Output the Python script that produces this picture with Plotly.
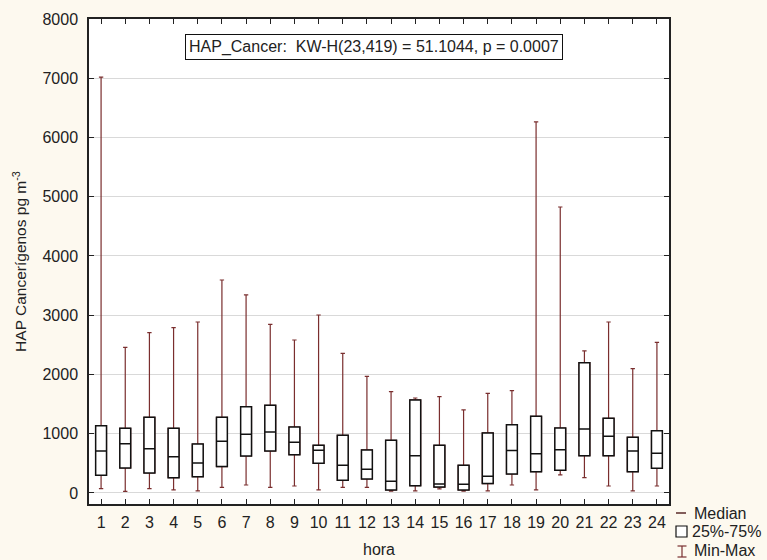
import plotly.graph_objects as go

hours = list(range(1, 25))
hour_labels = [str(h) for h in hours]
mins = [73, 28, 73, 51, 34, 96, 135, 96, 118, 51, 96, 96, 30, 34, 70, 30, 34, 135, 51, 304, 259, 118, 34, 118]
q1 = [298, 422, 338, 259, 276, 445, 624, 709, 647, 501, 214, 236, 50, 124, 100, 50, 158, 321, 360, 383, 630, 630, 360, 417]
medians = [709, 832, 748, 613, 506, 872, 991, 1030, 855, 721, 467, 400, 197, 630, 152, 146, 281, 715, 664, 731, 1080, 957, 709, 670]
q3 = [1136, 1092, 1277, 1092, 827, 1277, 1457, 1480, 1114, 805, 974, 726, 889, 1570, 805, 467, 1013, 1153, 1294, 1097, 2200, 1260, 940, 1052]
maxs = [7020, 2459, 2706, 2790, 2886, 3595, 3342, 2847, 2582, 3004, 2357, 1969, 1710, 1603, 1626, 1401, 1682, 1727, 6262, 4827, 2397, 2886, 2098, 2543]

title_text = "HAP_Cancer:  KW-H(23,419) = 51.1044, p = 0.0007"

BG = "#fdf9ef"
WHISK = "#7a2e2e"
FONT = "Liberation Sans, Arial, sans-serif"
TXT = "#222222"
BW = 0.45

fig = go.Figure()

# whiskers (min-max) drawn as a box trace beneath the real boxes
fig.add_trace(go.Box(
    x=hours, q1=q1, median=q1, q3=q3, lowerfence=mins, upperfence=maxs,
    width=BW, whiskerwidth=0.4, line=dict(color=WHISK, width=1.2),
    fillcolor="rgba(0,0,0,0)", showlegend=False, hoverinfo="skip",
))
# boxes 25%-75% with median
fig.add_trace(go.Box(
    x=hours, q1=q1, median=medians, q3=q3, lowerfence=q1, upperfence=q3,
    width=BW, whiskerwidth=0, line=dict(color="#111111", width=1.5),
    fillcolor="white", showlegend=False,
))

fig.update_layout(
    width=767, height=560,
    margin=dict(l=89, r=98, t=19, b=56),
    paper_bgcolor=BG, plot_bgcolor="white",
    font=dict(family=FONT, size=16, color=TXT),
    showlegend=False,
    boxmode="overlay",
)
fig.update_xaxes(
    range=[0.5, 24.5], tickvals=hours, ticktext=hour_labels,
    showgrid=False, zeroline=False, automargin=False,
    showline=True, linecolor="#222222", linewidth=1.5, mirror="ticks",
    ticks="inside", ticklen=5, tickcolor="#222222", tickwidth=1,
    ticklabelstandoff=3,
    title=dict(text="hora", standoff=14, font=dict(size=16)),
)
fig.update_yaxes(
    range=[-186, 8000], tickvals=[0, 1000, 2000, 3000, 4000, 5000, 6000, 7000, 8000],
    showgrid=True, gridcolor="#d9d9d9", gridwidth=1, zeroline=False, automargin=False,
    showline=True, linecolor="#222222", linewidth=1.5, mirror="ticks",
    ticks="inside", ticklen=5, tickcolor="#222222", tickwidth=1,
    ticklabelstandoff=6,
    title=dict(text="HAP Cancerígenos pg m<sup>-3</sup>", standoff=12, font=dict(size=15.5)),
)

fig.add_annotation(
    xref="paper", yref="paper", x=0.491, y=0.942, text=title_text, showarrow=False,
    xanchor="center", yanchor="middle",
    bordercolor="#111111", borderwidth=1, borderpad=3, bgcolor="white",
    font=dict(size=16, color=TXT),
)

# custom legend
def px_x(px):
    return (px - 89) / 580.0

def px_y(py):
    return (504 - py) / 485.0

fig.add_shape(type="line", xref="paper", yref="paper", x0=px_x(676), x1=px_x(686), y0=px_y(513), y1=px_y(513),
              line=dict(color="#5a2a2a", width=1.5))
fig.add_shape(type="rect", xref="paper", yref="paper", x0=px_x(676), x1=px_x(687), y0=px_y(537), y1=px_y(526),
              line=dict(color="#111111", width=1.2), fillcolor="white")
fig.add_shape(type="line", xref="paper", yref="paper", x0=px_x(682), x1=px_x(682), y0=px_y(546), y1=px_y(557),
              line=dict(color=WHISK, width=1.2))
fig.add_shape(type="line", xref="paper", yref="paper", x0=px_x(677.5), x1=px_x(686.5), y0=px_y(546), y1=px_y(546),
              line=dict(color=WHISK, width=1.2))
fig.add_shape(type="line", xref="paper", yref="paper", x0=px_x(677.5), x1=px_x(686.5), y0=px_y(557), y1=px_y(557),
              line=dict(color=WHISK, width=1.2))

for label, px0, py0 in [("Median", 692, 513), ("25%-75%", 690, 531), ("Min-Max", 692, 550)]:
    fig.add_annotation(xref="paper", yref="paper", x=px_x(px0), y=px_y(py0), text=label,
                       showarrow=False, xanchor="left", yanchor="middle",
                       font=dict(size=16, color=TXT))

fig.write_html("out.html")
